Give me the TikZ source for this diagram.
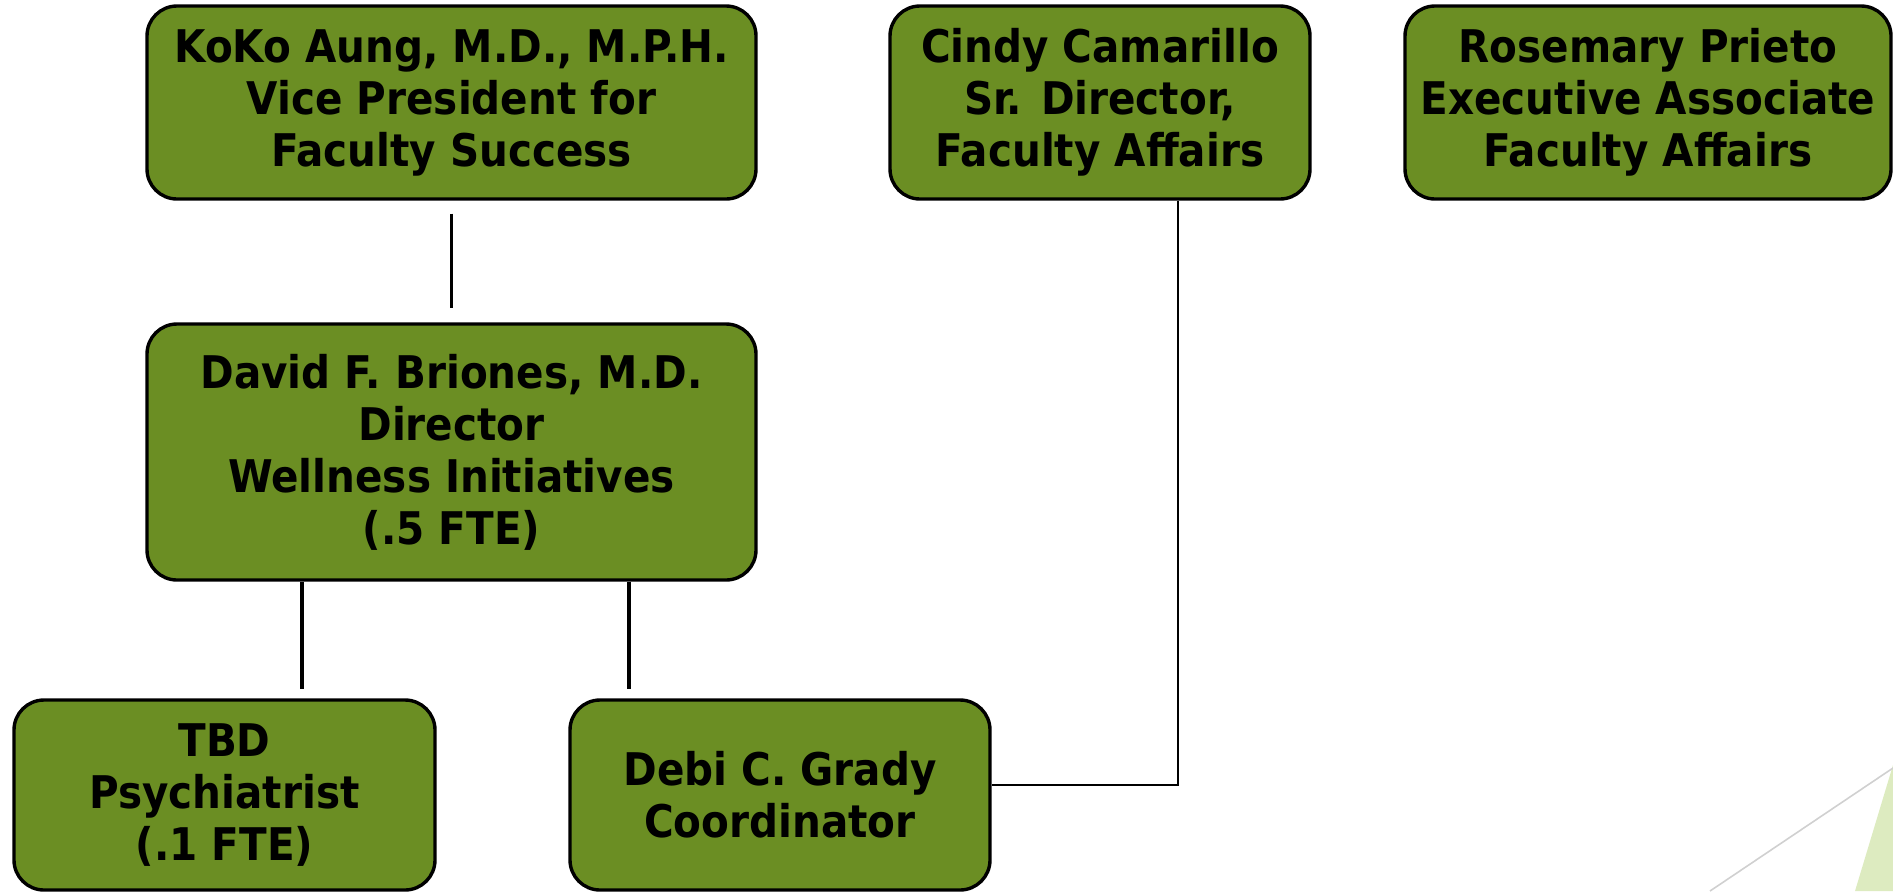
\documentclass[tikz,border=0pt]{standalone}
\usepackage{fontspec}
\setmainfont{DejaVu Sans Condensed}
\usepackage{xcolor}
\definecolor{boxgreen}{RGB}{107,142,35}
\definecolor{palegreen}{RGB}{221,235,192}
\definecolor{edgegrey}{RGB}{208,208,208}

\begin{document}
\begin{tikzpicture}[x=0.5pt,y=-0.5pt,
  orgbox/.style={draw=black, line width=1.7pt, fill=boxgreen, rounded corners=15pt,
    align=center, inner sep=0pt, font=\bfseries\fontsize{22.5}{26}\selectfont},
  orgline/.style={line width=1.8pt},
  thinline/.style={line width=0.7pt}]
\useasboundingbox (0,0) rectangle (1893,891);

% corner decoration
\fill[palegreen] (1893,765) -- (1855,891) -- (1893,891) -- cycle;
\draw[edgegrey, line width=0.8pt] (1710,891) -- (1893,768);

% top row
\node[orgbox, minimum width=304.5pt, minimum height=96.5pt] (koko) at (451.5,102.5)
  {KoKo Aung, M.D., M.P.H.\\Vice President for\\Faculty Success};
\node[orgbox, minimum width=210pt, minimum height=96.5pt] (cindy) at (1100,102.5)
  {Cindy Camarillo\\Sr. Director,\\Faculty Affairs};
\node[orgbox, minimum width=243pt, minimum height=96.5pt] (rosemary) at (1648,102.5)
  {Rosemary Prieto\\Executive Associate\\Faculty Affairs};

% middle
\node[orgbox, minimum width=304.5pt, minimum height=128pt] (david) at (451.5,452)
  {David F. Briones, M.D.\\Director\\Wellness Initiatives\\(.5 FTE)};

% bottom row
\node[orgbox, minimum width=210.5pt, minimum height=95pt] (tbd) at (224.5,795)
  {TBD\\Psychiatrist\\(.1 FTE)};
\node[orgbox, minimum width=210pt, minimum height=95pt] (debi) at (780,795)
  {Debi C. Grady\\Coordinator};

% connectors
\draw[orgline] ([yshift=-6.5pt]koko.south) -- ([yshift=7pt]david.north);
\draw[orgline, shorten >=4.5pt] ([xshift=-74.75pt]david.south) -- ([xshift=-74.75pt]david.south |- tbd.north);
\draw[orgline, shorten >=4.5pt] ([xshift=88.75pt]david.south) -- ([xshift=88.75pt]david.south |- debi.north);
\draw[thinline] ([xshift=39pt]cindy.south) |- ([yshift=5pt]debi.east);

\end{tikzpicture}
\end{document}
